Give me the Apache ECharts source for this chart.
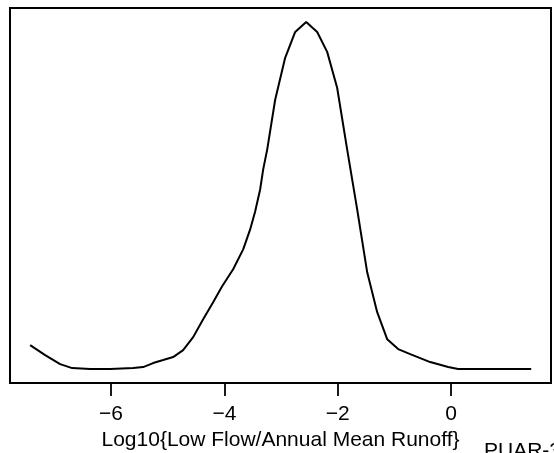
<!DOCTYPE html>
<html>
<head>
<meta charset="utf-8">
<script src="https://cdn.jsdelivr.net/npm/echarts@6/dist/echarts.min.js"></script>
<style>
html,body{margin:0;padding:0;background:#fff;}
#chart{width:554px;height:453px;}
</style>
</head>
<body>
<div id="chart"></div>
<script>
// x = Log10{Low Flow/Annual Mean Runoff}, y = kernel density estimate
const xValues = [-7.425,-7.160,-6.896,-6.684,-6.367,-6.014,-5.608,-5.432,-5.256,-5.079,-4.903,-4.727,-4.550,-4.374,-4.198,-4.039,-3.845,-3.668,-3.545,-3.457,-3.369,-3.316,-3.245,-3.104,-2.928,-2.751,-2.557,-2.363,-2.187,-2.011,-1.834,-1.658,-1.481,-1.305,-1.129,-0.935,-0.723,-0.370,-0.053,0.123,0.511,0.952,1.411];
const densityValues = [0.0366,0.0216,0.0082,0.0022,0.0007,0.0007,0.0022,0.0037,0.0097,0.0142,0.0187,0.0291,0.0485,0.0753,0.1007,0.1246,0.1500,0.1798,0.2096,0.2365,0.2693,0.2991,0.3290,0.4036,0.4663,0.5050,0.5200,0.5050,0.4752,0.4215,0.3290,0.2395,0.1455,0.0858,0.0455,0.0306,0.0231,0.0112,0.0037,0.0007,0.0007,0.0007,0.0007];
const xTicks = [-6,-4,-2,0];
const xTitle = 'Log10{Low Flow/Annual Mean Runoff}';
const cornerText = 'PUAR-3';

const chart = echarts.init(document.getElementById('chart'), null, {renderer:'canvas'});
const FONT = 'Liberation Sans, Arial, Helvetica, sans-serif';
chart.setOption({
  animation:false,
  backgroundColor:'#fff',
  grid:{left:10,top:8,width:541,height:375,containLabel:false,outerBoundsMode:'none',
    show:true,borderColor:'#000',borderWidth:2,backgroundColor:'transparent'},
  xAxis:{
    type:'value', min:-7.78, max:1.76,
    axisLine:{show:false,onZero:false},
    splitLine:{show:false},
    axisTick:{show:true,inside:false,length:13,customValues:xTicks,lineStyle:{color:'#000',width:1.8}},
    axisLabel:{show:true,customValues:xTicks,margin:21,color:'#000',fontSize:21,fontFamily:FONT,
      formatter:function(v){return (v<0?'\u2212':'')+Math.abs(v);}},
    name:xTitle, nameLocation:'middle', nameGap:43,
    nameTextStyle:{color:'#000',fontSize:21,fontFamily:FONT}
  },
  yAxis:{type:'value',min:-0.0201,max:0.5408,show:false},
  graphic:[{type:'text',left:484,top:441,style:{text:cornerText,fill:'#000',font:'21px '+FONT}}],
  series:[{
    type:'line', data:xValues.map((x,i)=>[x,densityValues[i]]),
    showSymbol:false, symbol:'none', smooth:false,
    lineStyle:{color:'#000',width:2}
  }]
});
</script>
</body>
</html>
